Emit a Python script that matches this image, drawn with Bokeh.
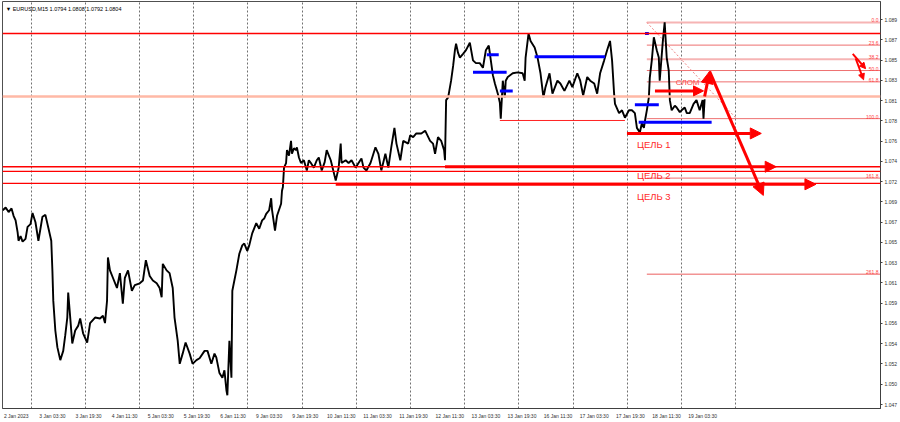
from bokeh.plotting import figure
from bokeh.models import FixedTicker, Arrow, NormalHead, Label, Span
from bokeh.core.properties import value
from bokeh.embed import file_html
from bokeh.resources import INLINE

# ---------------- data ----------------
# trading hours counted from 2 Jan 2023 00:00 (weekends skipped), EURUSD M15 price path
hours = [
    11.4, 12.7, 14.0, 15.3, 16.2, 17.1, 18.0, 18.4, 19.3, 20.2, 21.5, 22.4, 23.7, 24.6, 25.9, 27.2, 28.1, 29.0, 30.3, 31.6, 32.9,
    33.4, 33.8, 34.7, 35.6, 36.9, 38.2, 39.1, 40.0, 40.4, 41.3, 42.2, 43.5, 44.8, 45.7, 47.0, 48.8, 50.1, 52.3, 54.5, 55.8, 56.7, 57.6,
    58.0, 58.9, 60.2, 62.0, 63.3, 64.6, 65.5, 66.9, 68.6, 69.9, 72.1, 73.5, 74.8, 76.5, 77.9, 79.6, 80.9, 81.8, 82.3, 84.0, 85.3, 86.7,
    87.5, 88.9, 89.8, 91.1, 92.4, 94.2, 95.5, 97.2, 98.6, 100.8, 102.1, 103.8, 105.2, 106.0, 107.4, 108.7, 109.6, 110.5, 110.9, 111.8, 112.7,
    113.1, 114.0, 114.9, 116.2, 117.5, 118.4, 119.7, 120.6, 121.9, 123.7, 125.0, 126.3, 127.2, 128.1, 129.4, 130.3, 130.7, 132.0, 132.9, 134.7, 135.1, 135.5,
    136.0, 136.9, 137.3, 138.2, 139.1, 139.5, 140.4, 141.3, 141.7, 142.6, 143.5, 144.8, 146.1, 147.0, 147.9, 149.2, 150.5, 151.4, 152.7, 154.0, 154.9, 156.7, 158.0, 158.9,
    160.2, 161.1, 161.5, 163.3, 164.6, 165.9, 167.7, 169.0, 170.3, 171.2, 172.5, 174.3, 176.5, 177.8, 179.1, 180.9, 182.2, 183.5, 184.9, 185.8,
    187.5, 188.8, 191.0, 191.9, 193.2, 194.6, 196.8, 198.5, 200.7, 202.0, 202.9, 204.2, 205.6, 206.9, 207.3,
    207.8, 208.7, 210.0, 210.9, 211.7, 212.2, 213.1, 213.9, 215.3, 216.6, 218.3, 219.7, 221.0, 222.7, 224.1, 225.4, 226.7, 227.6, 228.5, 229.4, 230.7, 231.6, 232.0,
    232.9, 233.8, 234.2, 235.1, 237.3, 239.5, 241.7, 242.6, 243.0, 244.3, 245.2, 247.0, 248.3, 249.6, 250.9, 251.8, 253.6, 254.9,
    257.1, 258.4, 260.2, 262.4, 263.7, 265.9, 267.2, 268.5, 270.3, 271.6, 273.4, 274.7, 276.0, 277.8, 279.1, 280.4, 281.3,
    282.2, 282.6, 284.4, 285.7, 287.0, 288.8, 290.1, 291.4, 292.3, 293.6, 294.5, 295.4, 295.9, 296.7,
    297.6, 298.0, 298.9, 299.8, 301.1, 302.0, 302.4, 303.8, 304.6, 305.5, 306.4, 306.9, 307.7, 309.1, 309.9, 311.3, 312.1, 313.5, 314.4, 315.7, 317.4, 318.7, 320.1, 321.4, 321.8, 322.3,
]
price = [
    1.0684, 1.0687, 1.0682, 1.0686, 1.0678, 1.0673, 1.0660, 1.0651, 1.0656, 1.0650, 1.0653, 1.0666, 1.0669, 1.0681, 1.0671, 1.0651, 1.0664, 1.0677, 1.0679, 1.0665, 1.0651,
    1.0619, 1.0586, 1.0554, 1.0536, 1.0522, 1.0532, 1.0549, 1.0568, 1.0595, 1.0568, 1.0540, 1.0554, 1.0559, 1.0567, 1.0551, 1.0541, 1.0562, 1.0568, 1.0567, 1.0570, 1.0562, 1.0586,
    1.0633, 1.0619, 1.0611, 1.0600, 1.0616, 1.0583, 1.0611, 1.0619, 1.0597, 1.0603, 1.0605, 1.0608, 1.0630, 1.0613, 1.0608, 1.0605, 1.0600, 1.0590, 1.0626, 1.0619, 1.0616, 1.0600,
    1.0568, 1.0543, 1.0518, 1.0529, 1.0541, 1.0529, 1.0518, 1.0522, 1.0524, 1.0532, 1.0532, 1.0518, 1.0529, 1.0525, 1.0508, 1.0503, 1.0511, 1.0489, 1.0484, 1.0543, 1.0503,
    1.0597, 1.0608, 1.0619, 1.0637, 1.0646, 1.0648, 1.0640, 1.0646, 1.0659, 1.0670, 1.0664, 1.0673, 1.0675, 1.0680, 1.0684, 1.0697, 1.0684, 1.0662, 1.0678, 1.0691, 1.0705, 1.0709,
    1.0730, 1.0735, 1.0749, 1.0743, 1.0759, 1.0745, 1.0751, 1.0749, 1.0752, 1.0741, 1.0735, 1.0738, 1.0727, 1.0738, 1.0735, 1.0730, 1.0738, 1.0741, 1.0727, 1.0736, 1.0749, 1.0738, 1.0725, 1.0716,
    1.0730, 1.0756, 1.0735, 1.0738, 1.0735, 1.0738, 1.0730, 1.0735, 1.0740, 1.0730, 1.0727, 1.0735, 1.0752, 1.0745, 1.0727, 1.0745, 1.0730, 1.0752, 1.0773, 1.0756,
    1.0738, 1.0759, 1.0756, 1.0765, 1.0763, 1.0767, 1.0767, 1.0770, 1.0759, 1.0756, 1.0745, 1.0763, 1.0759, 1.0749, 1.0738,
    1.0803, 1.0806, 1.0824, 1.0840, 1.0857, 1.0864, 1.0854, 1.0849, 1.0853, 1.0857, 1.0865, 1.0846, 1.0843, 1.0843, 1.0838, 1.0857, 1.0862, 1.0846, 1.0830, 1.0821, 1.0810, 1.0800, 1.0783,
    1.0824, 1.0806, 1.0824, 1.0828, 1.0832, 1.0833, 1.0832, 1.0824, 1.0849, 1.0875, 1.0867, 1.0860, 1.0849, 1.0832, 1.0806, 1.0817, 1.0832, 1.0810,
    1.0824, 1.0821, 1.0813, 1.0824, 1.0817, 1.0832, 1.0824, 1.0808, 1.0828, 1.0824, 1.0821, 1.0810, 1.0832, 1.0846, 1.0857, 1.0867, 1.0846,
    1.0810, 1.0799, 1.0789, 1.0792, 1.0784, 1.0792, 1.0792, 1.0789, 1.0773, 1.0768, 1.0778, 1.0773, 1.0781, 1.0792,
    1.0806, 1.0827, 1.0846, 1.0871, 1.0857, 1.0849, 1.0824, 1.0867, 1.0887, 1.0849, 1.0835, 1.0803, 1.0792, 1.0797, 1.0795, 1.0790, 1.0792, 1.0795, 1.0789, 1.0789, 1.0799, 1.0803, 1.0792, 1.0803, 1.0783, 1.0804,
]

title_text = "\u25BC EURUSD,M15  1.0794 1.0808 1.0792 1.0804"

# x axis: label times (hours) and texts, day separators
x_ticks = [11.5, 27.5, 43.5, 59.5, 75.5, 91.5, 107.5, 123.5, 139.5, 155.5,
           171.5, 187.5, 203.5, 219.5, 235.5, 251.5, 267.5, 283.5, 299.5, 315.5]
x_tick_labels = ["2 Jan 2023", "3 Jan 03:30", "3 Jan 19:30", "4 Jan 11:30", "5 Jan 03:30",
                 "5 Jan 19:30", "6 Jan 11:30", "9 Jan 03:30", "9 Jan 19:30", "10 Jan 11:30",
                 "11 Jan 03:30", "11 Jan 19:30", "12 Jan 11:30", "13 Jan 03:30", "13 Jan 19:30",
                 "16 Jan 11:30", "17 Jan 03:30", "17 Jan 19:30", "18 Jan 11:30", "19 Jan 03:30"]
day_lines = [24, 48, 72, 96, 120, 144, 168, 192, 216, 240, 264, 288, 312, 336]

# y axis ticks
y_ticks = [1.0474, 1.04959, 1.05178, 1.05397, 1.05616, 1.05835, 1.06054, 1.06273, 1.06492, 1.06711,
           1.0693, 1.07149, 1.07368, 1.07587, 1.07806, 1.08025, 1.08244, 1.08463, 1.08682, 1.08901]
y_tick_labels = ["1.047", "1.050", "1.052", "1.054", "1.056", "1.059", "1.061", "1.063", "1.065", "1.067",
                 "1.069", "1.072", "1.074", "1.076", "1.078", "1.081", "1.083", "1.085", "1.087", "1.089"]

# full width horizontal levels
hline_prices = [1.0875, 1.0731, 1.0726, 1.0713]
salmon_level = 1.0807

# targets
target_names = ["ЦЕЛЬ 1", "ЦЕЛЬ 2", "ЦЕЛЬ 3"]
target_prices = [1.0767, 1.0731, 1.0712]
target_from = [287.9, 207.3, 158.9]
target_to = [347.4, 354.0, 371.6]
target_text_price = [1.0755, 1.0721, 1.0699]
target_text_hour = 292.3

# blue levels
blue_price = [1.0852, 1.0833, 1.0813, 1.0850, 1.0798, 1.0779, 1.0875]
blue_from = [225.8, 219.7, 231.6, 247.0, 291.4, 293.1, 295.9]
blue_to = [231.1, 234.6, 237.3, 278.2, 302.0, 325.4, 297.6]

# low level of 13 Jan
low_level = 1.0781
low_from, low_to = 231.6, 287.0

# break ("СЛОМ") arrow and forecast arrows
break_price, break_from, break_to = 1.0813, 300.3, 321.8
break_text_hour, break_text_price = 314.8, 1.0822
forecast_x = [322.3, 324.5, 348.3]
forecast_y = [1.0807, 1.0834, 1.0700]
zig_x0 = [387.9, 389.2]
zig_y0 = [1.0853, 1.0848]
zig_x1 = [393.6, 392.7]
zig_y1 = [1.0837, 1.0825]

# fibonacci
fib_high, fib_low = 1.0887, 1.0783
fib_start = 296.7
fib_trend_end = 336.4
fib_levels = [0.0, 23.6, 38.2, 50.0, 61.8, 100.0, 161.8, 261.8]
fib_labels = ["0.0", "23.6", "38.2", "50.0", "61.8", "100.0", "161.8", "261.8"]
fib_colors = ["#F6B4B4", "#EE7070", "#F6B4B4", "#EE7070", "#EE7070", "#EE7070", "#EE7070", "#F29494"]
fib_widths = [2, 1, 2, 1, 1, 1, 1, 1.5]

X_START, X_END = 11.3, 400.2
Y_START, Y_END = 1.04697, 1.09096
LABEL_HALF_WIDTH = 5.9   # hours: MT4 labels start at their time, Bokeh centres them

FONT = "Liberation Sans"

# ---------------- figure ----------------
p = figure(width=900, height=422, x_range=(X_START, X_END), y_range=(Y_START, Y_END),
           output_backend="svg", toolbar_location=None, y_axis_location="right",
           min_border_left=2, min_border_top=1, min_border_right=0, min_border_bottom=14,
           background_fill_color="white", border_fill_color="white")
p.margin = (0, 0, 0, 0)
p.outline_line_color = "#505050"

yax = p.yaxis[0]
yax.ticker = FixedTicker(ticks=y_ticks)
yax.major_label_overrides = dict(zip(y_ticks, y_tick_labels))
yax.major_label_text_font = FONT
yax.major_label_text_font_size = "5px"
yax.major_label_text_color = "#303030"
yax.major_tick_out = 2
yax.major_tick_in = 0
yax.minor_tick_out = 0
yax.minor_tick_in = 0
yax.major_label_standoff = 2
yax.axis_line_color = "#404040"
yax.major_tick_line_color = "#404040"

x_label_pos = [t + LABEL_HALF_WIDTH for t in x_ticks]
xax = p.xaxis[0]
xax.ticker = FixedTicker(ticks=x_label_pos)
xax.major_label_overrides = dict(zip(x_label_pos, x_tick_labels))
xax.major_label_text_font = FONT
xax.major_label_text_font_size = "5px"
xax.major_label_text_color = "#303030"
xax.major_tick_out = 0
xax.major_tick_in = 0
xax.minor_tick_out = 0
xax.minor_tick_in = 0
xax.major_label_standoff = 4
xax.axis_line_color = "#404040"

p.ygrid.grid_line_color = None
p.xgrid.ticker = FixedTicker(ticks=day_lines)
p.xgrid.grid_line_color = "#707070"
p.xgrid.grid_line_dash = "2 2"
p.xgrid.grid_line_width = 1

# full width lines
for lvl in hline_prices:
    p.add_layout(Span(location=lvl, dimension="width", line_color="#FF0000", line_width=1.3))
p.add_layout(Span(location=salmon_level, dimension="width", line_color="#FFB9A6", line_width=2.5))

# fibonacci levels
fib_prices = [fib_high - (fib_high - fib_low) * lv / 100.0 for lv in fib_levels]
for fp, fc, fw in zip(fib_prices, fib_colors, fib_widths):
    p.segment(x0=[fib_start], y0=[fp], x1=[X_END], y1=[fp], line_color=fc, line_width=fw)
p.text(x=[X_END] * len(fib_prices), y=fib_prices, text=fib_labels, x_offset=-2,
       text_align="right", text_baseline="bottom", text_color="#FF4040",
       text_font=value(FONT), text_font_size="5px")
p.segment(x0=[fib_start], y0=[fib_high], x1=[fib_trend_end], y1=[fib_low],
          line_color="#F08080", line_width=1, line_dash="2 2")

# low line
p.segment(x0=[low_from], y0=[low_level], x1=[low_to], y1=[low_level], line_color="#FF2020", line_width=1)

# price path
p.line(hours, price, line_color="black", line_width=1.9)

# blue levels
p.segment(x0=blue_from, y0=blue_price, x1=blue_to, y1=blue_price, line_color="#0000FF", line_width=3)

# target arrows
for tp, tf, tt in zip(target_prices, target_from, target_to):
    p.add_layout(Arrow(x_start=tf, y_start=tp, x_end=tt, y_end=tp, line_color="#FF0000", line_width=3,
                       end=NormalHead(size=11, fill_color="#FF0000", line_color="#FF0000")))
p.text(x=[target_text_hour] * 3, y=target_text_price, text=target_names, text_align="left",
       text_baseline="middle", text_color="#FF2A2A", text_font=value(FONT), text_font_size="9.5px")

# break arrow + text
p.add_layout(Arrow(x_start=break_from, y_start=break_price, x_end=break_to, y_end=break_price,
                   line_color="#FF0000", line_width=3,
                   end=NormalHead(size=10, fill_color="#FF0000", line_color="#FF0000")))
p.text(x=[break_text_hour], y=[break_text_price], text=["СЛОМ"], text_align="center",
       text_baseline="middle", text_color="#FF4A4A", text_font=value(FONT), text_font_size="8px")

# forecast arrows
p.add_layout(Arrow(x_start=forecast_x[0], y_start=forecast_y[0], x_end=forecast_x[1], y_end=forecast_y[1],
                   line_color="#FF0000", line_width=3,
                   end=NormalHead(size=12, fill_color="#FF0000", line_color="#FF0000")))
p.add_layout(Arrow(x_start=forecast_x[1], y_start=forecast_y[1], x_end=forecast_x[2], y_end=forecast_y[2],
                   line_color="#FF0000", line_width=3,
                   end=NormalHead(size=12, fill_color="#FF0000", line_color="#FF0000")))
for a, b, c, d in zip(zig_x0, zig_y0, zig_x1, zig_y1):
    p.add_layout(Arrow(x_start=a, y_start=b, x_end=c, y_end=d, line_color="#FF0000", line_width=2,
                       end=NormalHead(size=6, fill_color="#FF0000", line_color="#FF0000")))

# title
p.add_layout(Label(x=12.7, y=1.0902, text=title_text, text_font=FONT, text_font_size="5.5px",
                   text_color="black", text_baseline="middle"))

open("out.html", "w").write(file_html(p, INLINE))
